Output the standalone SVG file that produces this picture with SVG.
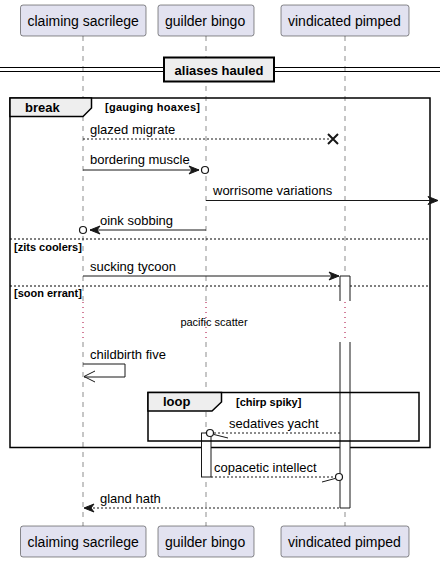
<svg xmlns="http://www.w3.org/2000/svg" width="445" height="561" viewBox="0 0 445 561">
<style>
text{font-family:"Liberation Sans",Arial,sans-serif;fill:#000}
.pbox{fill:#E2E2F0;stroke:#181818;stroke-width:0.5}
.pt{font-size:14px}
.life{stroke:#181818;stroke-width:0.5;stroke-dasharray:5,5}
.dly{stroke:#A80036;stroke-width:1;stroke-dasharray:1,4}
.msg{stroke:#181818;stroke-width:1;fill:none}
.dash{stroke-dasharray:2,2}
.mt{font-size:13px}
.frame{fill:none;stroke:#000;stroke-width:1.5}
.tab{fill:#EEEEEE;stroke:#000;stroke-width:1.5}
.fk{font-size:13px;font-weight:bold}
.fc{font-size:11px;font-weight:bold}
.sep{stroke:#000;stroke-width:1;stroke-dasharray:2,2}
.act{fill:#FFFFFF;stroke:#181818;stroke-width:1}
.ah{fill:#181818;stroke:#181818;stroke-width:1}
</style>
<g id="lifelines">
<line class="life" x1="83" y1="36" x2="83" y2="301"/>
<line class="life" x1="83" y1="342" x2="83" y2="526"/>
<line class="life" x1="206" y1="36" x2="206" y2="301"/>
<line class="life" x1="206" y1="342" x2="206" y2="526"/>
<line class="life" x1="345" y1="36" x2="345" y2="301"/>
<line class="life" x1="345" y1="342" x2="345" y2="526"/>
</g>
<g id="p-claiming-top"><rect class="pbox" x="20.5" y="5" width="125.5" height="31" rx="2.5"/><text class="pt" x="27.5" y="25.5">claiming sacrilege</text></g>
<g id="p-guilder-top"><rect class="pbox" x="158" y="5" width="96" height="31" rx="2.5"/><text class="pt" x="165" y="25.5">guilder bingo</text></g>
<g id="p-vindicated-top"><rect class="pbox" x="281" y="5" width="128" height="31" rx="2.5"/><text class="pt" x="288" y="25.5">vindicated pimped</text></g>
<g id="p-claiming-bottom"><rect class="pbox" x="20.5" y="526" width="125.5" height="31" rx="2.5"/><text class="pt" x="27.5" y="546.5">claiming sacrilege</text></g>
<g id="p-guilder-bottom"><rect class="pbox" x="158" y="526" width="96" height="31" rx="2.5"/><text class="pt" x="165" y="546.5">guilder bingo</text></g>
<g id="p-vindicated-bottom"><rect class="pbox" x="281" y="526" width="128" height="31" rx="2.5"/><text class="pt" x="288" y="546.5">vindicated pimped</text></g>
<g id="divider">
<line x1="0" y1="67.5" x2="440" y2="67.5" stroke="#000" stroke-width="1"/>
<line x1="0" y1="71.5" x2="440" y2="71.5" stroke="#000" stroke-width="1"/>
<rect x="164" y="57.5" width="110" height="24" fill="#EEEEEE" stroke="#000" stroke-width="2"/>
<text class="fk" x="219" y="74.5" text-anchor="middle">aliases hauled</text>
</g>
<g id="break-frame">
<rect class="frame" x="10" y="98" width="420" height="349.5"/>
<path class="tab" d="M10,98 H91.5 V108 L83,116.5 H10 Z"/>
<text class="fk" x="25" y="112">break</text>
<text class="fc" x="105" y="111" textLength="95">[gauging hoaxes]</text>
<line class="sep" x1="10" y1="239" x2="430" y2="239"/>
<text class="fc" x="14" y="251">[zits coolers]</text>
<line class="sep" x1="10" y1="286" x2="430" y2="286"/>
<text class="fc" x="14" y="297">[soon errant]</text>
</g>
<g id="activations">
<rect x="340" y="276" width="10" height="232" fill="#FFFFFF" stroke="none"/>
<path class="msg" d="M340,301 V276 H350 V301 M340,342 V508 H350 V342"/>
<rect class="act" x="201.5" y="433" width="9.5" height="44"/>
</g>
<g id="delay">
<line class="dly" x1="83" y1="302" x2="83" y2="342"/>
<line class="dly" x1="206" y1="302" x2="206" y2="342"/>
<line class="dly" x1="345" y1="302" x2="345" y2="342"/>
<text x="214" y="326" font-size="11" text-anchor="middle">pacific scatter</text>
</g>
<g id="loop-frame">
<rect class="frame" x="148" y="392.5" width="271" height="48.5"/>
<path class="tab" d="M148,392.5 H221.5 V402 L212,411 H148 Z"/>
<text class="fk" x="163" y="406">loop</text>
<text class="fc" x="236" y="406">[chirp spiky]</text>
</g>
<g id="connectors">
<line class="msg dash" x1="83" y1="139" x2="330" y2="139"/>
<path d="M328,134 L338,144 M328,144 L338,134" stroke="#181818" stroke-width="2" fill="none"/>
<text class="mt" x="90" y="134">glazed migrate</text>

<line class="msg" x1="83" y1="170" x2="199" y2="170"/>
<path class="ah" d="M199,170 L189,166 L192,170 L189,174 Z"/>
<circle cx="205" cy="170" r="3.5" fill="#FFFFFF" stroke="#181818" stroke-width="1.2"/>
<text class="mt" x="90" y="164">bordering muscle</text>

<line class="msg" x1="206" y1="200.5" x2="437" y2="200.5"/>
<path class="ah" d="M438,200.5 L428,196.5 L431,200.5 L428,204.5 Z"/>
<text class="mt" x="213" y="195">worrisome variations</text>

<line class="msg" x1="90" y1="230" x2="206" y2="230"/>
<path class="ah" d="M90,230 L100,226 L97,230 L100,234 Z"/>
<circle cx="83" cy="230" r="3.5" fill="#FFFFFF" stroke="#181818" stroke-width="1.2"/>
<text class="mt" x="100" y="225">oink sobbing</text>

<line class="msg" x1="83" y1="276" x2="339" y2="276"/>
<path class="ah" d="M339,276 L329,272 L332,276 L329,280 Z"/>
<text class="mt" x="90" y="271">sucking tycoon</text>

<path class="msg" d="M83,364 H125 V377 H84"/>
<path class="msg" d="M95,371 L84,376.5 L95,382"/>
<text class="mt" x="90" y="359">childbirth five</text>

<line class="msg dash" x1="214" y1="433" x2="340" y2="433"/>
<path class="msg" d="M214,434.5 L228,438"/>
<circle cx="210" cy="433" r="3.5" fill="#FFFFFF" stroke="#181818" stroke-width="1.2"/>
<text class="mt" x="229" y="428">sedatives yacht</text>

<line class="msg dash" x1="211" y1="477" x2="335" y2="477"/>
<path class="msg" d="M335,478.5 L322,482"/>
<circle cx="339" cy="477" r="3.5" fill="#FFFFFF" stroke="#181818" stroke-width="1.2"/>
<text class="mt" x="214" y="472">copacetic intellect</text>

<line class="msg dash" x1="85" y1="508" x2="340" y2="508"/>
<path class="ah" d="M84,508 L94,504 L91,508 L94,512 Z"/>
<text class="mt" x="100" y="503">gland hath</text>
</g>
</svg>
